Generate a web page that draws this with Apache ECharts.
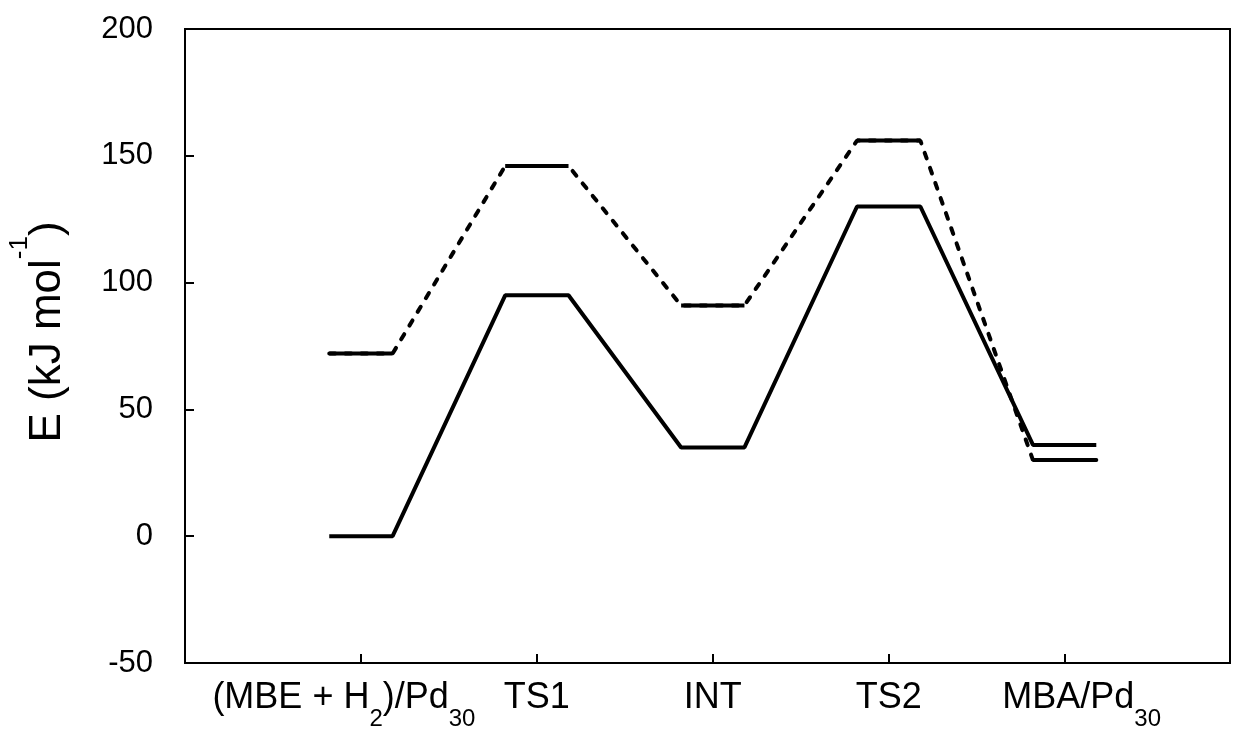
<!DOCTYPE html>
<html>
<head>
<meta charset="utf-8">
<script src="https://cdn.jsdelivr.net/npm/echarts@6/dist/echarts.min.js"></script>
<style>
  html, body { margin: 0; padding: 0; background: #fff; }
  #chart { width: 1243px; height: 735px; }
</style>
</head>
<body>
<div id="chart"></div>
<script>
// reaction steps, placed at x = 1..5
var steps = ['(MBE + H2)/Pd30', 'TS1', 'INT', 'TS2', 'MBA/Pd30']
var stepLabels = [
  '{a|(MBE + H}{s|2}{a|)/Pd}{s|30}{g| }',
  '{a|TS1}',
  '{a|INT}',
  '{a|TS2}',
  '{g| }{a|MBA/Pd}{s|30}'
]
// energies (kJ/mol)
var solidPath = [0, 95, 35, 130, 36]
var dashedPath = [72, 146, 91, 156, 30]
var yTicks = [-50, 0, 50, 100, 150, 200]
var yTitle = '{a|E (kJ mol}{p|-1}{a|)}'

var half = 0.18 // half width of one energy level (x units)
var font = 'Liberation Sans, Arial, sans-serif'

// whole profile: level, connector, level, ...
function profile(E) {
  var pts = []
  E.forEach(function(e, i) {
    pts.push([i + 1 - half, e])
    pts.push([i + 1 + half, e])
  })
  return pts
}
// only the flat levels, broken between steps
function levels(E) {
  var pts = []
  E.forEach(function(e, i) {
    if (i > 0) pts.push([i + 0.5, '-'])
    pts.push([i + 1 - half, e])
    pts.push([i + 1 + half, e])
  })
  return pts
}

var chart = echarts.init(document.getElementById('chart'))
chart.setOption({
  animation: false,
  grid: {
    left: 185,
    right: 13,
    top: 29,
    bottom: 72,
    outerBoundsMode: 'none',
    containLabel: false,
    show: true,
    borderColor: '#000',
    borderWidth: 2
  },
  // y axis title, rotated, with superscript
  graphic: [{
    type: 'text',
    x: 20,
    y: 332,
    rotation: Math.PI / 2,
    style: {
      text: yTitle,
      align: 'center',
      verticalAlign: 'middle',
      rich: {
        a: { fontSize: 44, lineHeight: 50, verticalAlign: 'bottom', fill: '#000', fontFamily: font },
        p: { fontSize: 26, lineHeight: 100, verticalAlign: 'middle', fill: '#000', fontFamily: font }
      }
    }
  }],
  xAxis: {
    type: 'value',
    min: 0,
    max: 5.94,
    interval: 1,
    splitLine: { show: false },
    axisLine: { onZero: false, lineStyle: { color: '#000', width: 2 } },
    axisTick: { inside: true, length: 9, lineStyle: { color: '#000', width: 2 } },
    axisLabel: {
      showMaxLabel: false,
      margin: 2,
      color: '#000',
      fontFamily: font,
      formatter: function(v) {
        var i = Math.round(v)
        if (Math.abs(v - i) > 1e-6 || i < 1 || i > steps.length) return ''
        return stepLabels[i - 1]
      },
      rich: {
        a: { fontSize: 36, lineHeight: 66, verticalAlign: 'middle', color: '#000', fontFamily: font },
        s: { fontSize: 24, lineHeight: 24, verticalAlign: 'bottom', color: '#000', fontFamily: font },
        g: { fontSize: 10, lineHeight: 10, width: 34 }
      }
    }
  },
  yAxis: {
    type: 'value',
    min: yTicks[0],
    max: yTicks[yTicks.length - 1],
    interval: yTicks[1] - yTicks[0],
    splitLine: { show: false },
    axisLine: { show: true, onZero: false, lineStyle: { color: '#000', width: 2 } },
    axisTick: { show: true, inside: true, length: 9, lineStyle: { color: '#000', width: 2 } },
    axisLabel: {
      margin: 32,
      fontSize: 31,
      color: '#000',
      fontFamily: font
    }
  },
  series: [
    {
      name: 'dashed',
      type: 'line',
      data: profile(dashedPath),
      symbol: 'none',
      lineStyle: { color: '#000', width: 4, type: [6, 10], cap: 'round' }
    },
    {
      name: 'dashed levels',
      type: 'line',
      data: levels(dashedPath),
      symbol: 'none',
      connectNulls: false,
      lineStyle: { color: '#000', width: 4, type: 'solid' }
    },
    {
      name: 'solid',
      type: 'line',
      data: profile(solidPath),
      symbol: 'none',
      lineStyle: { color: '#000', width: 4, type: 'solid' }
    }
  ]
})
</script>
</body>
</html>
